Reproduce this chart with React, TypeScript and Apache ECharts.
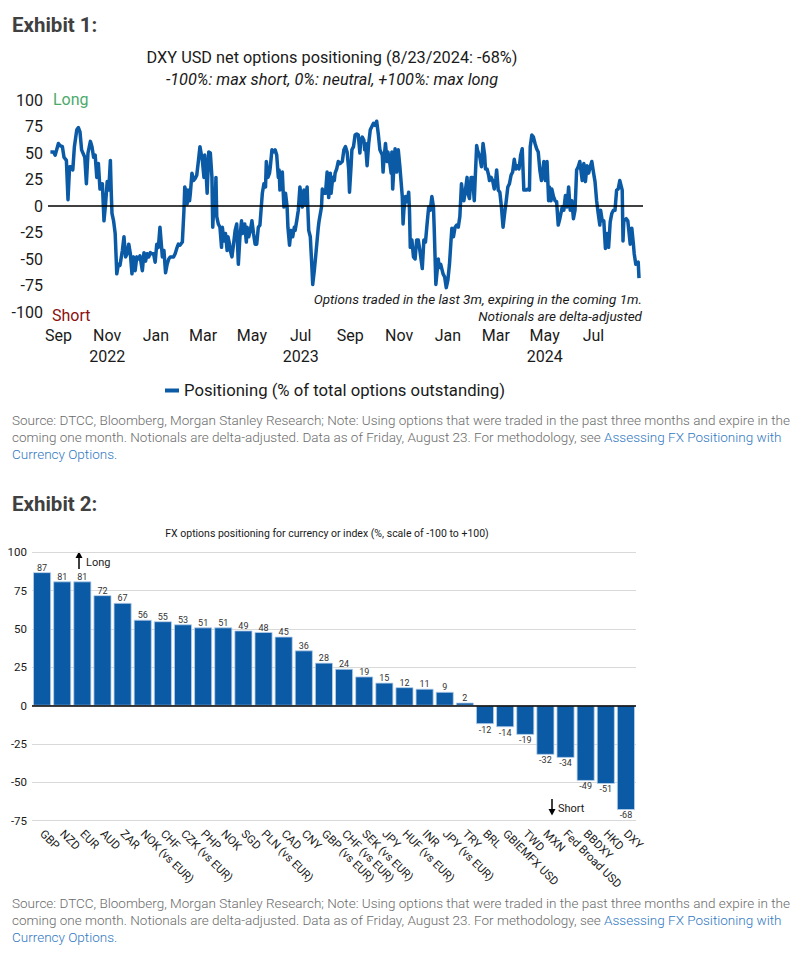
import React, { useEffect, useRef } from 'react';
import * as echarts from 'echarts';

// ---------- Exhibit 1 data ----------
const START_DATE = '2022-09-01';
// [days since START_DATE, positioning %]
const POSITIONING: [number, number][] = [
  [-10, 51], [-6, 51], [-4, 48], [0, 59], [2, 57], [5, 56], [7, 46], [10, 43], [12, 6], [14, 37],
  [16, 37], [18, 34], [20, 56], [23, 72], [25, 74], [27, 70], [29, 53], [33, 46], [35, 21], [37, 50],
  [40, 61], [42, 56], [44, 46], [46, 48], [48, 27], [50, 40], [52, 16], [55, 21], [57, -14], [59, 2],
  [61, 23], [63, 15], [65, 43], [66, 15], [67, -7], [69, -14], [71, -26], [73, -64], [75, -55], [77, -56],
  [80, -42], [82, -29], [84, -48], [86, -45], [88, -36], [90, -45], [92, -64], [94, -48], [96, -61], [98, -48],
  [100, -50], [102, -47], [105, -61], [107, -44], [109, -52], [111, -45], [113, -48], [115, -44], [117, -45], [119, -45],
  [121, -53], [123, -36], [125, -39], [127, -20], [130, -48], [132, -42], [134, -63], [136, -55], [138, -50], [140, -48],
  [142, -48], [144, -48], [146, -45], [148, -40], [150, -36], [152, -37], [155, -34], [157, -4], [158, 18], [160, 12],
  [161, 2], [162, 15], [164, 5], [165, 12], [167, 31], [169, 24], [171, 26], [173, 29], [175, 42], [177, 56],
  [180, 43], [182, 27], [183, 48], [185, 27], [186, 12], [188, 51], [190, 50], [192, 27], [193, -20], [194, -4],
  [196, 2], [197, 27], [198, -10], [200, -17], [202, -20], [204, -39], [205, -20], [207, -33], [209, -26], [211, -42],
  [212, -29], [214, -36], [215, -42], [217, -48], [219, -36], [221, -23], [223, -17], [225, -55], [227, -29], [229, -14],
  [230, -26], [233, -17], [235, -34], [236, -20], [238, -29], [240, -23], [242, -14], [244, -26], [246, -36], [248, -36],
  [250, -20], [252, -18], [255, 12], [257, 21], [259, 18], [260, 42], [262, 27], [264, 31], [265, 37], [267, 53],
  [269, 51], [271, 53], [273, 48], [275, 27], [276, 34], [277, 15], [280, 32], [281, 15], [282, -1], [284, 12],
  [286, -1], [287, -20], [289, -37], [291, -23], [293, -29], [295, -20], [296, -23], [298, -14], [300, -4], [302, 18],
  [305, -1], [307, 15], [309, 1], [311, 18], [312, -4], [313, -23], [315, -29], [317, -58], [318, -74], [320, -61],
  [322, -45], [325, -20], [326, -14], [329, -1], [330, 16], [332, 12], [334, 12], [336, 32], [338, 8], [340, 31],
  [341, 12], [343, 27], [345, 24], [346, 31], [348, 35], [350, 42], [352, 40], [355, 42], [357, 53], [359, 56],
  [361, 51], [363, 34], [364, 13], [366, 38], [367, 53], [369, 56], [371, 67], [373, 68], [375, 67], [377, 50],
  [378, 61], [380, 65], [382, 62], [383, 53], [384, 59], [386, 38], [388, 59], [390, 72], [392, 75], [394, 78],
  [396, 76], [398, 80], [400, 68], [402, 53], [405, 48], [406, 32], [407, 43], [409, 59], [411, 42], [412, 51],
  [414, 43], [416, 31], [417, 51], [418, 16], [420, 42], [421, 54], [423, 32], [425, 53], [427, 37], [430, 9],
  [431, -17], [432, -4], [434, 9], [436, 4], [438, 13], [439, -4], [440, -39], [442, -32], [444, -48], [446, -50],
  [448, -32], [450, -32], [452, -42], [455, -59], [457, -32], [459, -34], [461, -17], [463, -1], [465, -4], [467, 9],
  [469, -1], [470, -23], [472, -74], [475, -50], [476, -58], [478, -55], [481, -64], [483, -67], [485, -77], [487, -70],
  [489, -55], [491, -32], [492, -21], [494, -29], [496, -20], [498, -18], [500, -20], [502, -10], [504, 21], [505, 15],
  [507, 5], [509, 15], [511, 27], [512, 12], [514, 7], [516, 27], [518, 27], [520, 5], [523, 57], [524, 53],
  [527, 46], [529, 37], [531, 59], [533, 48], [534, 35], [536, 35], [538, 29], [539, 24], [541, 27], [543, 24],
  [545, 16], [547, 26], [548, 34], [550, 15], [552, 13], [554, -1], [556, -20], [558, -7], [560, 5], [562, 18],
  [564, 21], [566, 29], [568, 32], [570, 44], [572, 35], [574, 38], [576, 35], [578, 48], [580, 54], [581, 34],
  [582, 15], [585, 15], [587, 16], [589, 15], [590, 56], [592, 67], [594, 65], [596, 59], [598, 54], [600, 51],
  [602, 34], [604, 24], [605, 27], [607, 42], [609, 24], [611, 42], [613, 5], [614, 18], [616, 5], [617, 16],
  [619, 9], [621, 5], [623, 4], [625, -18], [627, -12], [630, -1], [632, -4], [634, 10], [636, -1], [638, 18],
  [640, -4], [642, 5], [644, -12], [646, -4], [648, 34], [650, 37], [652, 42], [655, 24], [657, 40], [659, 23],
  [661, 38], [663, 31], [665, 37], [667, 42], [669, 32], [671, 23], [673, 5], [675, -7], [677, -18], [678, -4],
  [680, -14], [682, -14], [684, -40], [686, -26], [688, -39], [690, -15], [692, -7], [694, -4], [696, -4], [698, 15],
  [700, 16], [702, 24], [705, 15], [706, -33], [707, -14], [710, -12], [712, -14], [713, -21], [715, -36], [717, -21],
  [719, -36], [720, -45], [722, -55], [725, -53], [726, -68],
];
const X1_MIN = '2022-08-19';
const X1_MAX = '2024-09-01';
const MONTH_TICKS = [
  '2022-09-01', '2022-11-01', '2023-01-01', '2023-03-01', '2023-05-01', '2023-07-01',
  '2023-09-01', '2023-11-01', '2024-01-01', '2024-03-01', '2024-05-01', '2024-07-01',
];
const MONTH_LABELS = ['Sep', 'Nov', 'Jan', 'Mar', 'May', 'Jul', 'Sep', 'Nov', 'Jan', 'Mar', 'May', 'Jul'];
const YEAR_LABELS = ['', '2022', '', '', '', '2023', '', '', '', '', '2024', ''];
const Y1_MIN = -100;
const Y1_MAX = 100;
const Y1_STEP = 25;

// ---------- Exhibit 2 data ----------
const FX_CATEGORIES = [
  'GBP', 'NZD', 'EUR', 'AUD', 'ZAR', 'NOK (vs EUR)', 'CHF', 'CZK (vs EUR)', 'PHP', 'NOK',
  'SGD', 'PLN (vs EUR)', 'CAD', 'CNY', 'GBP (vs EUR)', 'CHF (vs EUR)', 'SEK (vs EUR)', 'JPY', 'HUF (vs EUR)', 'INR',
  'JPY (vs EUR)', 'TRY', 'BRL', 'GBIEMFX USD', 'TWD', 'MXN', 'Fed Broad USD', 'BBDXY', 'HKD', 'DXY',
];
const FX_VALUES = [
  87, 81, 81, 72, 67, 56, 55, 53, 51, 51,
  49, 48, 45, 36, 28, 24, 19, 15, 12, 11,
  9, 2, -12, -14, -19, -32, -34, -49, -51, -68,
];
const Y2_MIN = -75;
const Y2_MAX = 100;
const Y2_STEP = 25;

const BLUE = '#0b5aa6';
const FONT = 'Roboto';
const DAY_MS = 86400000;
const toMs = (s: string) => Date.parse(s + 'T00:00:00Z');

export default function App() {
  const ref = useRef<HTMLDivElement>(null);

  useEffect(() => {
    document.body.style.margin = '0';
    if (!ref.current) return;
    const chart = echarts.init(ref.current, undefined, { renderer: 'svg' });
    const start = toMs(START_DATE);
    const lineData = POSITIONING.map(([d, v]) => [start + d * DAY_MS, v]);
    const tickMs = MONTH_TICKS.map(toMs);

    const barData = FX_VALUES.map((v) => ({
      value: v,
      label: { position: v >= 0 ? 'top' : 'bottom', distance: v >= 0 ? 0 : 1 },
    }));

    chart.setOption({
      animation: false,
      textStyle: { fontFamily: FONT },
      grid: [
        { left: 48, width: 595, top: 100, height: 212, containLabel: false },
        { left: 32, width: 604, top: 552.3, height: 268.4, containLabel: false },
      ],
      legend: {
        data: ['Positioning (% of total options outstanding)'],
        left: 160,
        top: 377,
        icon: 'rect',
        itemWidth: 14,
        itemHeight: 4,
        textStyle: { fontSize: 16.7, color: '#1a1a1a', fontFamily: FONT },
      },
      xAxis: [
        {
          type: 'value',
          gridIndex: 0,
          min: toMs(X1_MIN),
          max: toMs(X1_MAX),
          axisLine: { show: false },
          axisTick: { show: false },
          splitLine: { show: false },
          axisLabel: {
            customValues: tickMs,
            margin: 13,
            fontSize: 16,
            lineHeight: 21,
            color: '#1a1a1a',
            fontFamily: FONT,
            formatter: (val: number) => {
              const i = tickMs.findIndex((t) => Math.abs(t - val) < DAY_MS);
              if (i < 0) return '';
              return YEAR_LABELS[i] ? MONTH_LABELS[i] + '\n' + YEAR_LABELS[i] : MONTH_LABELS[i];
            },
          },
        },
        {
          type: 'category',
          gridIndex: 1,
          data: FX_CATEGORIES,
          axisLine: { show: false },
          axisTick: { show: false },
          axisLabel: {
            interval: 0,
            rotate: -45,
            margin: 11,
            fontSize: 11.5,
            color: '#1a1a1a',
            fontFamily: FONT,
          },
        },
      ],
      yAxis: [
        {
          type: 'value',
          gridIndex: 0,
          min: Y1_MIN,
          max: Y1_MAX,
          interval: Y1_STEP,
          axisLine: { show: false },
          axisTick: { show: false },
          splitLine: { show: false },
          axisLabel: { fontSize: 16, color: '#1a1a1a', margin: 5, fontFamily: FONT },
        },
        {
          type: 'value',
          gridIndex: 1,
          min: Y2_MIN,
          max: Y2_MAX,
          interval: Y2_STEP,
          axisLine: { show: false },
          axisTick: { show: false },
          splitLine: { show: true, lineStyle: { color: '#d9d9d9', width: 1 } },
          axisLabel: { fontSize: 11.5, color: '#1a1a1a', margin: 5, fontFamily: FONT },
        },
      ],
      series: [
        {
          name: 'Positioning (% of total options outstanding)',
          type: 'line',
          xAxisIndex: 0,
          yAxisIndex: 0,
          data: lineData,
          symbol: 'none',
          showSymbol: false,
          lineStyle: { color: BLUE, width: 3.5, join: 'round' },
          itemStyle: { color: BLUE },
          z: 2,
          markLine: {
            silent: true,
            symbol: ['none', 'none'],
            label: { show: false },
            lineStyle: { color: '#000', width: 1.5, type: 'solid' },
            data: [{ yAxis: 0 }],
            z: 3,
          },
        },
        {
          name: 'FX',
          type: 'bar',
          xAxisIndex: 1,
          yAxisIndex: 1,
          data: barData,
          barCategoryGap: '11%',
          itemStyle: { color: BLUE, borderColor: '#b9d0ea', borderWidth: 0.8 },
          label: { show: true, fontSize: 9, color: '#333', fontFamily: FONT },
          markLine: {
            silent: true,
            symbol: ['none', 'none'],
            label: { show: false },
            lineStyle: { color: '#000', width: 1.5, type: 'solid' },
            data: [{ yAxis: 0 }],
          },
        },
      ],
      graphic: [
        {
          type: 'text', x: 332, y: 57,
          style: { text: 'DXY USD net options positioning (8/23/2024: -68%)', fontSize: 16.3, fontFamily: FONT, fill: '#1a1a1a', align: 'center', verticalAlign: 'middle', textAlign: 'center', textVerticalAlign: 'middle' },
        },
        {
          type: 'text', x: 332, y: 79,
          style: { text: '-100%: max short, 0%: neutral, +100%: max long', fontSize: 16.3, fontStyle: 'italic', fontFamily: FONT, fill: '#1a1a1a', align: 'center', verticalAlign: 'middle', textAlign: 'center', textVerticalAlign: 'middle' },
        },
        {
          type: 'text', x: 53, y: 99,
          style: { text: 'Long', fontSize: 16, fontFamily: FONT, fill: '#4caa6b', align: 'left', verticalAlign: 'middle', textAlign: 'left', textVerticalAlign: 'middle' },
        },
        {
          type: 'text', x: 52, y: 315,
          style: { text: 'Short', fontSize: 16, fontFamily: FONT, fill: '#8b1010', align: 'left', verticalAlign: 'middle', textAlign: 'left', textVerticalAlign: 'middle' },
        },
        {
          type: 'text', x: 642, y: 299,
          style: { text: 'Options traded in the last 3m, expiring in the coming 1m.', fontSize: 13.5, fontStyle: 'italic', fontFamily: FONT, fill: '#1a1a1a', align: 'right', verticalAlign: 'middle', textAlign: 'right', textVerticalAlign: 'middle' },
        },
        {
          type: 'text', x: 642, y: 316,
          style: { text: 'Notionals are delta-adjusted', fontSize: 13.5, fontStyle: 'italic', fontFamily: FONT, fill: '#1a1a1a', align: 'right', verticalAlign: 'middle', textAlign: 'right', textVerticalAlign: 'middle' },
        },
        {
          type: 'text', x: 327, y: 533,
          style: { text: 'FX options positioning for currency or index (%, scale of -100 to +100)', fontSize: 10.5, fontFamily: FONT, fill: '#1a1a1a', align: 'center', verticalAlign: 'middle', textAlign: 'center', textVerticalAlign: 'middle' },
        },
        { type: 'line', shape: { x1: 79, y1: 569, x2: 79, y2: 556 }, style: { stroke: '#000', lineWidth: 1.5 } },
        { type: 'polygon', shape: { points: [[75.5, 558], [79, 551.5], [82.5, 558]] }, style: { fill: '#000' } },
        {
          type: 'text', x: 86, y: 562,
          style: { text: 'Long', fontSize: 11, fontFamily: FONT, fill: '#1a1a1a', align: 'left', verticalAlign: 'middle', textAlign: 'left', textVerticalAlign: 'middle' },
        },
        { type: 'line', shape: { x1: 552, y1: 799, x2: 552, y2: 811 }, style: { stroke: '#000', lineWidth: 1.5 } },
        { type: 'polygon', shape: { points: [[548.5, 809], [552, 815.5], [555.5, 809]] }, style: { fill: '#000' } },
        {
          type: 'text', x: 558, y: 808,
          style: { text: 'Short', fontSize: 11, fontFamily: FONT, fill: '#1a1a1a', align: 'left', verticalAlign: 'middle', textAlign: 'left', textVerticalAlign: 'middle' },
        },
      ],
    });
    return () => chart.dispose();
  }, []);

  const exhibitStyle: React.CSSProperties = {
    position: 'absolute', left: 12, fontSize: 20.5, fontWeight: 700, color: '#404040', lineHeight: '24px', fontFamily: FONT,
  };
  const sourceStyle: React.CSSProperties = {
    position: 'absolute', left: 12, fontSize: 13.5, fontWeight: 300, color: '#6b6b6b', lineHeight: '17px', whiteSpace: 'nowrap', fontFamily: FONT,
  };
  const link: React.CSSProperties = { color: '#2f78c2' };

  const source = (
    <>
      Source: DTCC, Bloomberg, Morgan Stanley Research; Note: Using options that were traded in the past three months and expire in the
      <br />
      coming one month. Notionals are delta-adjusted. Data as of Friday, August 23. For methodology, see{' '}
      <span style={link}>Assessing FX Positioning with</span>
      <br />
      <span style={link}>Currency Options.</span>
    </>
  );

  return (
    <div style={{ position: 'relative', width: 802, height: 953, overflow: 'hidden', background: '#fff', fontFamily: FONT }}>
      <div ref={ref} style={{ position: 'absolute', left: 0, top: 0, width: 802, height: 953 }} />
      <div style={{ ...exhibitStyle, top: 13 }}>Exhibit 1:</div>
      <div style={{ ...sourceStyle, top: 411.5 }}>{source}</div>
      <div style={{ ...exhibitStyle, top: 492 }}>Exhibit 2:</div>
      <div style={{ ...sourceStyle, top: 894.5 }}>{source}</div>
    </div>
  );
}
